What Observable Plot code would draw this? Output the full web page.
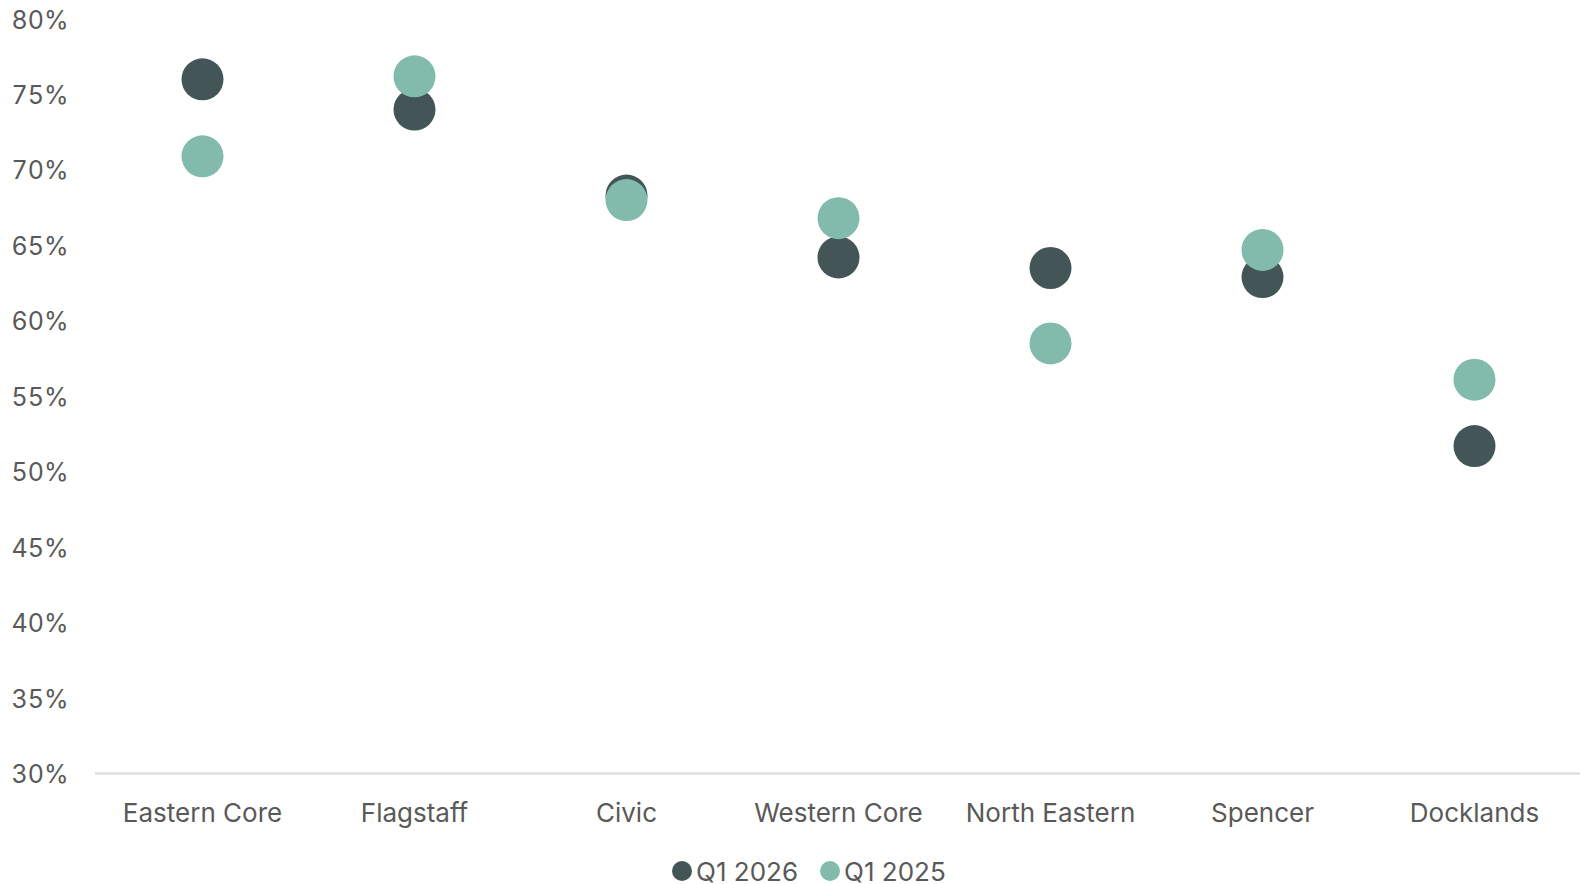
<!DOCTYPE html>
<html>
<head>
<meta charset="utf-8">
<script src="https://cdn.jsdelivr.net/npm/d3@7"></script>
<script src="https://cdn.jsdelivr.net/npm/@observablehq/plot@0.6"></script>
<style>
  html, body { margin: 0; padding: 0; background: #fff; }
  #wrap { position: relative; width: 1590px; height: 884px; font-family: Inter, sans-serif; color: #595959; }
  #legend { position: absolute; left: 672px; top: 851px; height: 40px; display: flex; align-items: center; font-size: 26px; }
  .item { display: flex; align-items: center; margin-right: 22px; }
  .sw { width: 20px; height: 20px; border-radius: 50%; margin-right: 4px; }
</style>
</head>
<body>
<div id="wrap"><div id="chart"></div><div id="legend"></div></div>
<script>
// Precincts, in display order
const categories = ["Eastern Core", "Flagstaff", "Civic", "Western Core", "North Eastern", "Spencer", "Docklands"];
// Occupancy rate (%) per precinct
const q1_2026 = [76.0, 74.0, 68.3, 64.2, 63.5, 62.9, 51.7];
const q1_2025 = [70.9, 76.2, 68.0, 66.8, 58.5, 64.7, 56.1];
const seriesNames = ["Q1 2026", "Q1 2025"];
const seriesColors = ["#435557", "#82bbac"];
const yTicks = [30, 35, 40, 45, 50, 55, 60, 65, 70, 75, 80];

const rows2026 = categories.map((c, i) => ({precinct: c, value: q1_2026[i]}));
const rows2025 = categories.map((c, i) => ({precinct: c, value: q1_2025[i]}));

const chart = Plot.plot({
  width: 1590,
  height: 840,
  marginLeft: 95,
  marginRight: 10,
  marginTop: 18.5,
  marginBottom: 67,
  style: {fontFamily: "Inter, sans-serif", fontSize: "25px", color: "#595959", background: "#fff"},
  x: {type: "point", domain: categories, padding: 0.5, label: null},
  y: {domain: [30, 80], label: null},
  marks: [
    Plot.ruleY([30], {stroke: "#d9d9d9", strokeWidth: 2}),
    Plot.axisY(yTicks, {tickSize: 0, tickPadding: 27, tickFormat: d => d + "%", label: null, dy: 1.5}),
    Plot.axisX({tickSize: 0, tickPadding: 30, label: null, fontSize: 26}),
    Plot.dot(rows2026, {x: "precinct", y: "value", r: 21, fill: seriesColors[0]}),
    Plot.dot(rows2025, {x: "precinct", y: "value", r: 21, fill: seriesColors[1]})
  ]
});
document.getElementById("chart").appendChild(chart);

const legend = document.getElementById("legend");
seriesNames.forEach((name, i) => {
  const item = document.createElement("div");
  item.className = "item";
  const sw = document.createElement("span");
  sw.className = "sw";
  sw.style.background = seriesColors[i];
  const label = document.createElement("span");
  label.textContent = name;
  item.appendChild(sw);
  item.appendChild(label);
  legend.appendChild(item);
});
</script>
</body>
</html>
